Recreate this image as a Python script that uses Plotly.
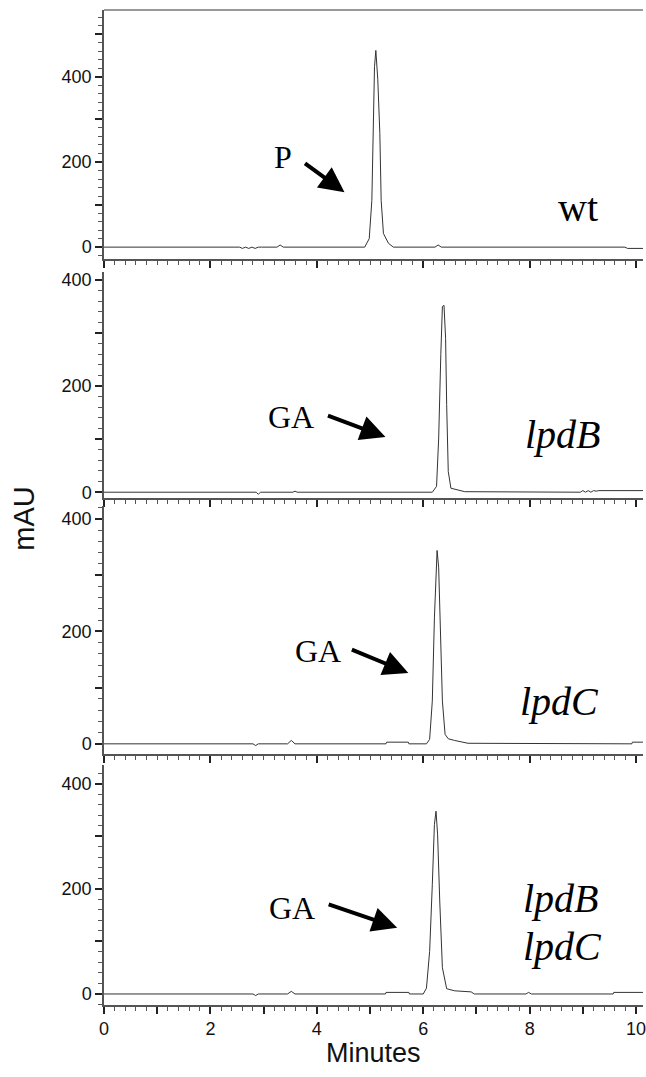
import plotly.graph_objects as go

# ---- data (time in minutes, absorbance in mAU) ----
wt_t = [0.0, 2.55, 2.60, 2.66, 2.72, 2.78, 2.84, 2.90, 2.96, 3.25, 3.31, 3.37, 4.90, 4.985, 5.034,
        5.059, 5.084, 5.109, 5.146, 5.184, 5.209, 5.252, 5.346, 5.439, 6.22, 6.28, 6.34, 9.79, 9.84, 10.2]
wt_v = [0, 0, -3, 0, -3, 0, -3, 0, 0, 0, 5, 0, 0, 20, 110,
        267, 424, 462, 393, 267, 110, 32, 9, 0, 0, 5, 0, 0, -3, -3]

lpdB_t = [0.0, 2.86, 2.90, 2.94, 3.55, 3.59, 3.63, 6.17, 6.25, 6.29, 6.33, 6.36, 6.39, 6.42,
          6.44, 6.47, 6.52, 6.65, 6.78, 8.95, 9.00, 9.05, 9.10, 9.15, 9.20, 9.25, 9.30, 10.2]
lpdB_v = [0, 0, -4, 0, 0, 2, 0, 0, 11, 102, 259, 350, 352, 290,
          165, 39, 7.5, 4, 1, 0, 3, 0, 3, 0, 3, 2, 3, 3]

lpdC_t = [0.0, 2.80, 2.85, 2.90, 3.45, 3.52, 3.59, 5.30, 5.31, 5.72, 5.73, 6.06, 6.12, 6.17, 6.21,
          6.24, 6.26, 6.29, 6.32, 6.36, 6.41, 6.47, 6.59, 6.84, 9.92, 9.93, 10.2]
lpdC_v = [0, 0, -3, 0, 0, 6, 0, 0, 3, 3, 0, 0, 8, 76, 224,
          313, 344, 313, 194, 76, 17, 9, 6, 1, 0, 3, 3]

lpdBC_t = [0.0, 2.80, 2.85, 2.90, 3.45, 3.52, 3.59, 5.29, 5.30, 5.73, 5.74, 6.00, 6.06, 6.12, 6.17,
           6.21, 6.24, 6.27, 6.31, 6.36, 6.44, 6.59, 6.90, 6.96, 7.93, 7.98, 8.03, 9.57, 9.58, 10.2]
lpdBC_v = [0, 0, -3, 0, 0, 5, 0, 0, 3, 3, 0, 0, 11, 81, 208,
           323, 348, 303, 177, 50, 10, 6, 4, 0, 0, 3, 0, 0, 3, 3]

series = [wt_t, lpdB_t, lpdC_t, lpdBC_t]
values = [wt_v, lpdB_v, lpdC_v, lpdBC_v]

# panel layout: paper domains and y ranges
domains = [[0.7497, 1.0], [0.5095, 0.7367], [0.2523, 0.5015], [0.0, 0.2412]]
yranges = [[-28, 557], [-11, 415], [-18, 423], [-21, 436]]
x_range = [0, 10.13]

ytickvals = [0, 100, 200, 300, 400, 500]
yticktext = ["0", "", "200", "", "400", ""]
xtickvals = list(range(0, 11))
xticktext = ["0", "", "2", "", "4", "", "6", "", "8", "", "10"]

AX = "#555555"
LINE = "#333333"
TICKFONT = dict(family="Liberation Sans, Arial, sans-serif", size=18, color="#111111")

fig = go.Figure()
for i in range(4):
    n = "" if i == 0 else str(i + 1)
    fig.add_trace(go.Scatter(x=series[i], y=values[i], mode="lines",
                             line=dict(color=LINE, width=1),
                             xaxis="x" + n, yaxis="y" + n, showlegend=False,
                             hoverinfo="skip"))
    fig.layout["xaxis" + n] = dict(
        domain=[0, 1], anchor="y" + n, range=x_range,
        showline=True, linecolor=AX, linewidth=1.5, mirror=False,
        ticks="outside", ticklen=7, tickwidth=1.5, tickcolor="#222222",
        tickmode="array", tickvals=xtickvals, ticktext=xticktext,
        showticklabels=(i == 3), tickfont=TICKFONT, ticklabeloverflow="allow",
        minor=dict(dtick=0.2, tick0=0, ticks="outside", ticklen=4, tickwidth=1, tickcolor=AX),
        showgrid=False, zeroline=False,
        matches=None if i == 3 else "x4",
    )
    fig.layout["yaxis" + n] = dict(
        domain=domains[i], anchor="x" + n, range=yranges[i],
        showline=True, linecolor=AX, linewidth=1.5,
        ticks="outside", ticklen=7, tickwidth=1.5, tickcolor="#222222",
        tickmode="array", tickvals=ytickvals, ticktext=yticktext,
        tickfont=TICKFONT, ticklabelstandoff=0,
        minor=dict(dtick=20, tick0=0, ticks="outside", ticklen=4, tickwidth=1, tickcolor=AX),
        showgrid=False, zeroline=False,
    )

serif = "Liberation Serif, Times New Roman, serif"
annotations = []

# arrows (tip at data position, tail offset in pixels)
arrows = [("x", "y", 4.52, 129, -41, -30),
          ("x2", "y2", 5.29, 104, -59, -22),
          ("x3", "y3", 5.72, 126, -58, -24),
          ("x4", "y4", 5.51, 126, -70, -24)]
for xr, yr, x, y, ax, ay in arrows:
    annotations.append(dict(xref=xr, yref=yr, x=x, y=y, ax=ax, ay=ay, text="",
                            showarrow=True, arrowhead=2, arrowsize=1.25, arrowwidth=4,
                            arrowcolor="#000000"))

labels = [("x", "y", 3.36, 212, "P", 32),
          ("x", "y", 8.90, 94, "wt", 40),
          ("x2", "y2", 3.51, 141, "GA", 32),
          ("x2", "y2", 8.62, 108, "<i>lpdB</i>", 40),
          ("x3", "y3", 4.02, 165, "GA", 32),
          ("x3", "y3", 8.56, 76, "<i>lpdC</i>", 40),
          ("x4", "y4", 3.53, 164, "GA", 32),
          ("x4", "y4", 8.58, 181, "<i>lpdB</i>", 40),
          ("x4", "y4", 8.62, 91, "<i>lpdC</i>", 40)]
for xr, yr, x, y, t, s in labels:
    annotations.append(dict(xref=xr, yref=yr, x=x, y=y, text=t, showarrow=False,
                            font=dict(family=serif, size=s, color="#000000"),
                            xanchor="center", yanchor="middle"))

annotations.append(dict(xref="paper", yref="paper", x=0.5, y=-0.048, text="Minutes",
                        showarrow=False, xanchor="center", yanchor="middle",
                        font=dict(family="Liberation Sans, Arial", size=27, color="#111111")))
annotations.append(dict(xref="paper", yref="paper", x=-0.148, y=0.489, text="mAU",
                        textangle=-90, showarrow=False, xanchor="center", yanchor="middle",
                        font=dict(family="Liberation Sans, Arial", size=29, color="#111111")))

fig.update_layout(
    width=646, height=1077,
    margin=dict(l=104, r=0, t=10, b=72),
    paper_bgcolor="white", plot_bgcolor="white",
    annotations=annotations,
    shapes=[dict(type="line", xref="paper", yref="paper", x0=0, x1=1, y0=1, y1=1,
                 line=dict(color="#777777", width=1.5))],
    showlegend=False,
)

fig.write_html("out.html", config={"displayModeBar": False},
               post_script="document.body.style.margin='0';document.body.style.overflow='hidden';")
